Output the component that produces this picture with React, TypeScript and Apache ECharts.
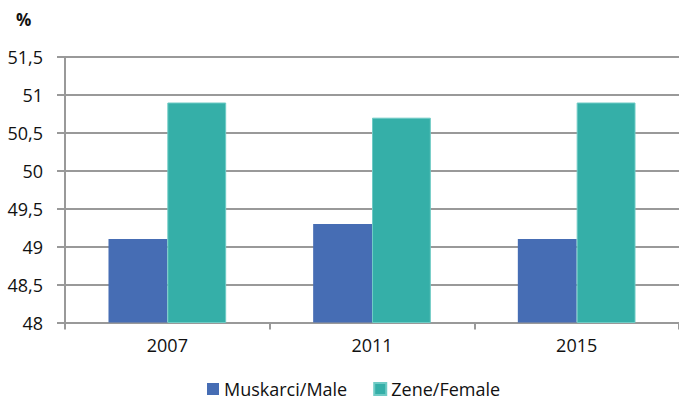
import React, { useEffect, useRef } from "react";
import * as echarts from "echarts";

const categories = ["2007", "2011", "2015"];
const maleValues = [49.1, 49.3, 49.1];
const femaleValues = [50.9, 50.7, 50.9];
const seriesNames = ["Muskarci/Male", "Zene/Female"];

const FONT = "'Open Sans', 'Noto Sans', sans-serif";

export default function App() {
  const ref = useRef<HTMLDivElement>(null);
  useEffect(() => {
    if (!ref.current) return;
    const chart = echarts.init(ref.current, null, { renderer: "svg" });
    chart.setOption({
      animation: false,
      backgroundColor: "#ffffff",
      textStyle: { fontFamily: FONT },
      grid: { left: 65, top: 57, width: 621, height: 265.5, containLabel: false },
      graphic: [
        {
          type: "text",
          left: 16,
          top: 11,
          style: { text: "%", font: `bold 17px ${FONT}`, fill: "#111" },
        },
      ],
      legend: {
        left: 207,
        top: 380,
        itemWidth: 12,
        itemHeight: 12,
        itemGap: 26,
        padding: 0,
        icon: "rect",
        textStyle: { fontSize: 18, color: "#111", fontFamily: FONT, lineHeight: 18 },
        data: seriesNames,
      },
      xAxis: {
        type: "category",
        data: categories,
        axisLine: { lineStyle: { color: "#999", width: 2 } },
        axisTick: { show: true, length: 7, lineStyle: { color: "#999", width: 2 } },
        axisLabel: { fontSize: 18, color: "#111", margin: 13, fontFamily: FONT },
      },
      yAxis: {
        type: "value",
        min: 48,
        max: 51.5,
        interval: 0.5,
        axisLine: { show: true, lineStyle: { color: "#999", width: 2 } },
        axisTick: { show: true, length: 8, lineStyle: { color: "#999", width: 2 } },
        splitLine: { lineStyle: { color: "#999", width: 2 } },
        axisLabel: {
          fontSize: 18,
          color: "#111",
          margin: 22,
          fontFamily: FONT,
          formatter: (v: number) => String(v).replace(".", ","),
        },
      },
      series: [
        {
          name: seriesNames[0],
          type: "bar",
          data: maleValues,
          barGap: "0%",
          barCategoryGap: "42.5%",
          itemStyle: { color: "#466DB4" },
        },
        {
          name: seriesNames[1],
          type: "bar",
          data: femaleValues,
          barGap: "0%",
          barCategoryGap: "42.5%",
          itemStyle: { color: "#35AFA8", borderColor: "#6FCBC5", borderWidth: 1 },
        },
      ],
    });
    return () => chart.dispose();
  }, []);
  return (
    <div
      ref={ref}
      style={{ position: "absolute", left: 0, top: 0, width: 679, height: 401 }}
    />
  );
}
